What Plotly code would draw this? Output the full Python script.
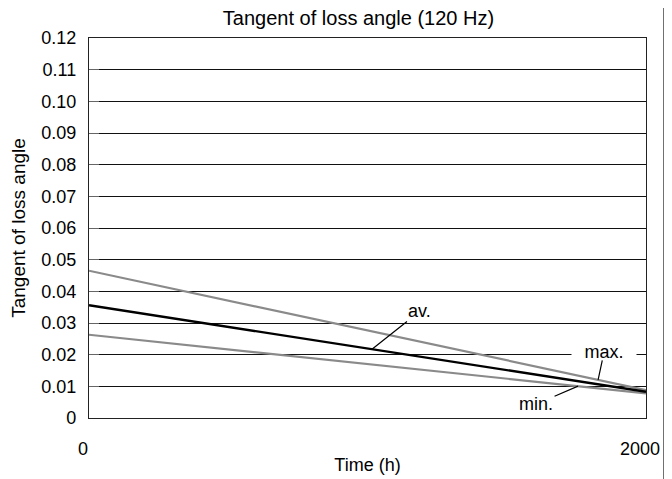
import plotly.graph_objects as go

time_h = [0, 2000]
tan_max = [0.0465, 0.0088]
tan_av = [0.0356, 0.0083]
tan_min = [0.0263, 0.0078]
y_ticks = [0, 0.01, 0.02, 0.03, 0.04, 0.05, 0.06, 0.07, 0.08, 0.09, 0.10, 0.11, 0.12]
y_tick_text = ["0", "0.01", "0.02", "0.03", "0.04", "0.05", "0.06", "0.07", "0.08", "0.09", "0.10", "0.11", "0.12"]
x_ticks = [0, 2000]

FONT = "Liberation Sans, Arial, Helvetica, sans-serif"

# the page body has an 8px default margin; size the figure so it fits the window
W, H = 664, 471

fig = go.Figure()
fig.add_trace(go.Scatter(x=time_h, y=tan_max, mode="lines", line=dict(color="#8a8a8a", width=2.2), name="max."))
fig.add_trace(go.Scatter(x=time_h, y=tan_min, mode="lines", line=dict(color="#8a8a8a", width=2.2), name="min."))
fig.add_trace(go.Scatter(x=time_h, y=tan_av, mode="lines", line=dict(color="#000000", width=2.4), name="av."))

def on_line(series, x):
    return series[0] + (series[1] - series[0]) * (x - time_h[0]) / (time_h[1] - time_h[0])

ann_font = dict(family=FONT, size=18, color="black")
annotations = [
    dict(x=1016, y=on_line(tan_av, 1016), text="av.", ax=48, ay=-38, showarrow=True, arrowhead=0,
         arrowwidth=1.2, arrowcolor="black", font=ann_font, bgcolor="rgba(0,0,0,0)"),
    dict(x=1828, y=on_line(tan_max, 1828), text="max.", ax=6, ay=-28, showarrow=True, arrowhead=0,
         arrowwidth=1.2, arrowcolor="black", font=ann_font, bgcolor="white", borderpad=1,
         width=62, height=14),
    dict(x=1756, y=on_line(tan_min, 1756), text="min.", ax=-42, ay=18, showarrow=True, arrowhead=0,
         arrowwidth=1.2, arrowcolor="black", font=ann_font, bgcolor="rgba(0,0,0,0)"),
]

fig.update_layout(
    width=W, height=H,
    margin=dict(l=81, r=26, t=30, b=61),
    paper_bgcolor="white", plot_bgcolor="white",
    showlegend=False,
    font=dict(family=FONT, size=18, color="black"),
    title=dict(text="Tangent of loss angle (120 Hz)", x=(358.5 - 8) / W, xanchor="center",
               y=1 - 3 / H, yanchor="top", yref="container", pad=dict(t=0, b=0),
               font=dict(size=20, family=FONT)),
    annotations=annotations,
    shapes=[dict(type="line", xref="paper", yref="paper", x0=1.034, x1=1.034, y0=-0.17, y1=1.11,
                 layer="above", line=dict(color="black", width=3))],
)
fig.update_xaxes(range=[0, 2000], tickvals=x_ticks, ticktext=["0", "2000"], showgrid=False,
                 showline=True, mirror=True, linecolor="#222", linewidth=1.2, ticks="",
                 ticklabelstandoff=14, ticklabelshift=-6, zeroline=False, automargin=False,
                 tickfont=dict(size=18),
                 title=dict(text="Time (h)", font=dict(size=18), standoff=0))
fig.update_yaxes(range=[0, 0.12], tickvals=y_ticks, ticktext=y_tick_text, showgrid=True,
                 gridcolor="#111", gridwidth=1, showline=True, mirror=True, linecolor="#222",
                 linewidth=1.2, ticks="inside", ticklen=10, tickcolor="#666", zeroline=False,
                 ticklabelstandoff=8, automargin=False, tickfont=dict(size=18),
                 title=dict(text="Tangent of loss angle", font=dict(size=19), standoff=12))

fig.write_html("out.html")
